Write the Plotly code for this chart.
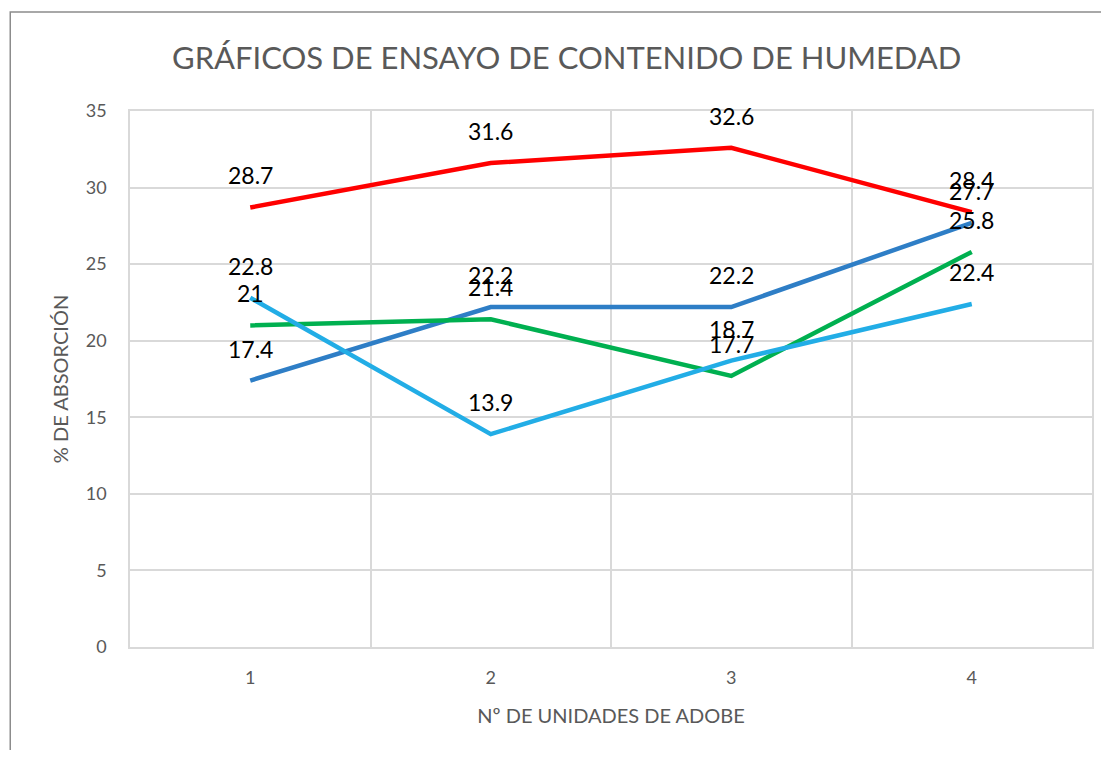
import plotly.graph_objects as go

units = [1, 2, 3, 4]
serie_roja = [28.7, 31.6, 32.6, 28.4]
serie_azul = [17.4, 22.2, 22.2, 27.7]
serie_verde = [21, 21.4, 17.7, 25.8]
serie_celeste = [22.8, 13.9, 18.7, 22.4]

series = [
    ("Serie 1", serie_roja, "#FF0000"),
    ("Serie 2", serie_azul, "#2E7EC6"),
    ("Serie 3", serie_verde, "#00B050"),
    ("Serie 4", serie_celeste, "#22ADE6"),
]

OFF = 8  # default page body margin
W, H = 1109 - 2 * OFF, 758 - 2 * OFF
# desired plot area in window pixels: x 130..1094, y 111..647
L, T = 130 - OFF, 111 - OFF
R = 1109 - 1094 - OFF
B = 758 - 647 - OFF
pw, ph = W - L - R, H - T - B

def px_x(px):
    return (px - OFF - L) / pw

def px_y(py):
    return (H - B - (py - OFF)) / ph

FONT = "Lato, Open Sans, sans-serif"

fig = go.Figure()
annotations = []
for name, vals, col in series:
    fig.add_trace(go.Scatter(x=units, y=vals, mode="lines", name=name,
                             line=dict(color=col, width=4.5)))
    for xv, yv in zip(units, vals):
        annotations.append(dict(x=xv, y=yv, xref="x", yref="y", text=f"{yv:g}",
                                showarrow=False, yshift=32,
                                font=dict(family=FONT, size=23, color="black")))

annotations.append(dict(text="GRÁFICOS DE ENSAYO DE CONTENIDO DE HUMEDAD",
                        xref="paper", yref="paper", x=px_x(567), y=px_y(57),
                        xanchor="center", yanchor="middle", showarrow=False,
                        font=dict(family=FONT, size=31, color="#595959")))

fig.update_layout(
    width=W, height=H,
    margin=dict(l=L, r=R, t=T, b=B),
    paper_bgcolor="white", plot_bgcolor="white",
    showlegend=False,
    annotations=annotations,
    shapes=[dict(type="rect", xref="paper", yref="paper",
                 x0=px_x(10), x1=px_x(1130),
                 y0=px_y(790), y1=px_y(12),
                 line=dict(color="#8c8c8c", width=1.5), layer="below")],
)
fig.update_xaxes(
    range=[0.5, 4.5], tickvals=units, ticktext=[str(u) for u in units],
    showgrid=False, zeroline=False, showline=True, linecolor="#d9d9d9", linewidth=1.5, mirror=True,
    ticks="outside", ticklen=14, tickcolor="rgba(0,0,0,0)",
    tickfont=dict(family=FONT, size=18, color="#595959"),
    minor=dict(tickvals=[0.5, 1.5, 2.5, 3.5, 4.5], showgrid=True, gridcolor="#d9d9d9", gridwidth=1.5),
    title=dict(text="Nº DE UNIDADES DE ADOBE", standoff=22,
               font=dict(family=FONT, size=20, color="#595959")),
)
fig.update_yaxes(
    range=[0, 35], tickvals=[0, 5, 10, 15, 20, 25, 30, 35],
    showgrid=True, gridcolor="#d9d9d9", gridwidth=1.5, zeroline=False,
    showline=True, linecolor="#d9d9d9", linewidth=1.5, mirror=True,
    ticks="outside", ticklen=18, tickcolor="rgba(0,0,0,0)",
    tickfont=dict(family=FONT, size=18, color="#595959"),
    title=dict(text="% DE ABSORCIÓN", standoff=12,
               font=dict(family=FONT, size=20, color="#595959")),
)

fig.write_html("out.html")
